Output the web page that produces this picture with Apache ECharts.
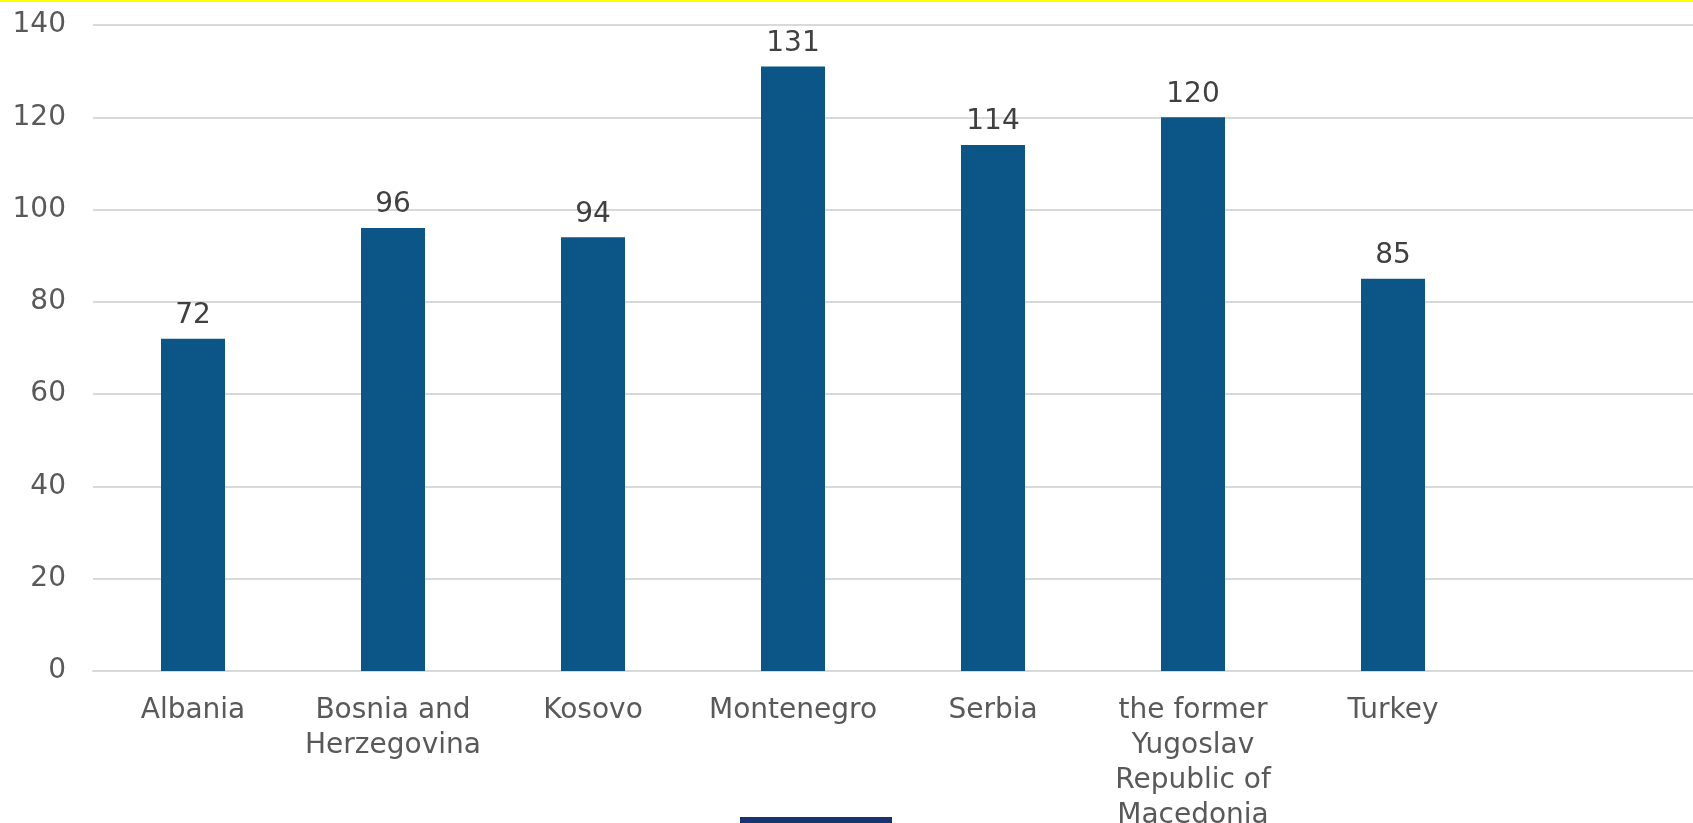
<!DOCTYPE html>
<html>
<head>
<meta charset="utf-8">
<script src="https://cdn.jsdelivr.net/npm/echarts@6/dist/echarts.min.js"></script>
<style>html,body{margin:0;padding:0;background:#fff;overflow:hidden;}#c{width:1693px;height:823px;}</style>
</head>
<body>
<div id="c"></div>
<script>
const categories = ['Albania', 'Bosnia and\nHerzegovina', 'Kosovo', 'Montenegro', 'Serbia', 'the former\nYugoslav\nRepublic of\nMacedonia', 'Turkey', ''];
const values = [72, 96, 94, 131, 114, 120, 85, null];
const seriesName = 'Value';
const yMin = 0, yMax = 140, yInterval = 20;

const chart = echarts.init(document.getElementById('c'), null, {renderer: 'canvas'});
const font = '"DejaVu Sans", Verdana, sans-serif';
chart.setOption({
  animation: false,
  backgroundColor: '#ffffff',
  grid: {left: 93, right: 0, top: 25, bottom: 152, containLabel: false, outerBoundsMode: 'none'},
  legend: {
    show: true,
    data: [{name: seriesName, itemStyle: {color: '#17346f'}}],
    left: 740, top: 817, padding: 0,
    itemWidth: 152, itemHeight: 20,
    icon: 'rect',
    textStyle: {color: 'transparent', fontSize: 10}
  },
  graphic: [{type: 'rect', left: 0, top: 0, shape: {width: 1693, height: 2}, style: {fill: '#ffff00'}, z: 100}],
  xAxis: {
    type: 'category',
    data: categories,
    axisLine: {show: true, lineStyle: {color: '#d9d9d9', width: 2}},
    axisTick: {show: false},
    axisLabel: {color: '#595959', fontSize: 28, fontFamily: font, lineHeight: 35, margin: 22, interval: 0}
  },
  yAxis: {
    type: 'value',
    min: yMin, max: yMax, interval: yInterval,
    axisLine: {show: false},
    axisTick: {show: false},
    splitLine: {lineStyle: {color: '#d9d9d9', width: 2}},
    axisLabel: {color: '#595959', fontSize: 28, fontFamily: font, margin: 27, padding: [6, 0, 0, 0]}
  },
  series: [{
    name: seriesName,
    type: 'bar',
    data: values,
    barWidth: '32%',
    itemStyle: {color: '#0b5686'},
    label: {show: true, position: 'top', distance: 9, color: '#404040', fontSize: 28, fontFamily: font}
  }]
});
</script>
</body>
</html>
